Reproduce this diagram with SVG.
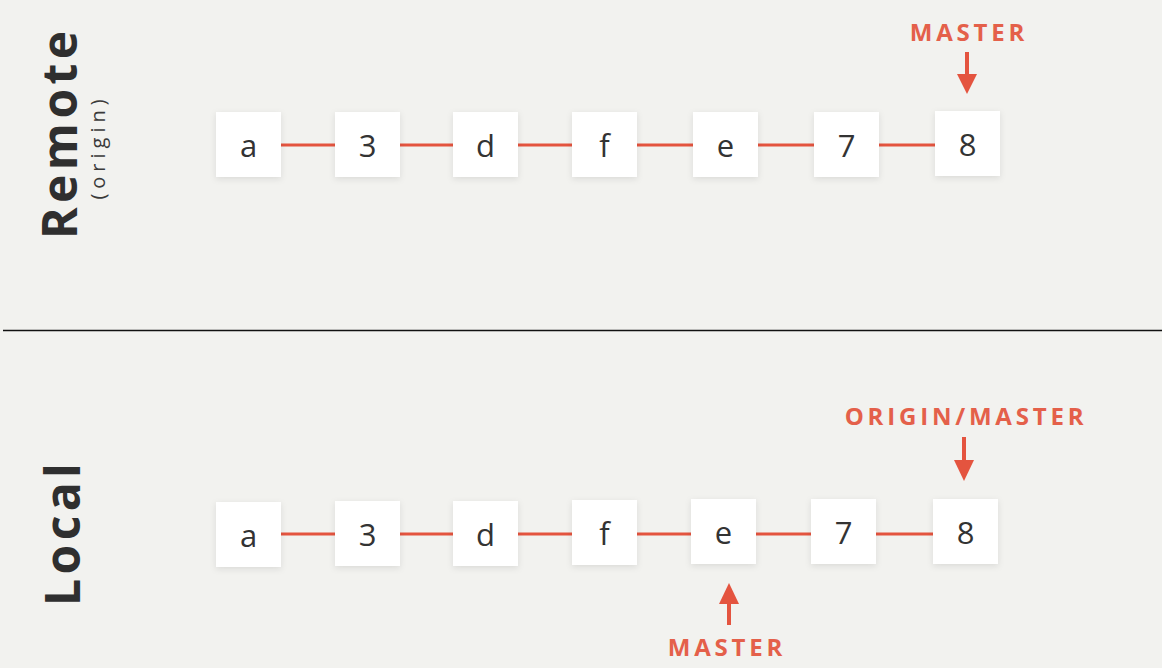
<svg xmlns="http://www.w3.org/2000/svg" width="1162" height="668" viewBox="0 0 1162 668">
<defs>
<style>
.bg{fill:#f2f2ef}
.box{fill:#ffffff;filter:url(#sh)}
.nt{font-family:"Open Sans","Liberation Sans",sans-serif;font-size:31px;fill:#333333;text-anchor:middle}
.ln{stroke:#e4543f;stroke-width:3;fill:none}
.ar{stroke:#e4543f;stroke-width:4;fill:none}
.ah{fill:#e4543f}
.lbl{font-family:"Open Sans","Liberation Sans",sans-serif;font-weight:700;font-size:24px;fill:#e4604a;text-anchor:middle;letter-spacing:3.8px}
.title{font-family:"Open Sans","Liberation Sans",sans-serif;font-weight:700;font-size:48px;fill:#2f2f2f;letter-spacing:4.4px}
.sub{font-family:"Open Sans","Liberation Sans",sans-serif;font-size:20px;fill:#3a3a3a;letter-spacing:5px;text-anchor:middle}
</style>
<filter id="sh" x="-30%" y="-30%" width="160%" height="160%">
<feDropShadow dx="0" dy="2" stdDeviation="3" flood-color="#000000" flood-opacity="0.10"/>
</filter>
</defs>
<rect class="bg" x="0" y="0" width="1162" height="668"/>
<line x1="3" y1="330.5" x2="1162" y2="330.5" stroke="#111111" stroke-width="1.5"/>

<g id="section-titles">
<text class="title" transform="translate(77,239) rotate(-90)">Remote</text>
<text class="sub" transform="translate(105,147) rotate(-90)">(origin)</text>
<text class="title" transform="translate(80,606) rotate(-90)">Local</text>
</g>

<g id="connectors">
<line class="ln" x1="281" y1="145" x2="335" y2="145"/>
<line class="ln" x1="400" y1="145" x2="453" y2="145"/>
<line class="ln" x1="518" y1="145" x2="572" y2="145"/>
<line class="ln" x1="637" y1="145" x2="693" y2="145"/>
<line class="ln" x1="758" y1="145" x2="814" y2="145"/>
<line class="ln" x1="879" y1="145" x2="935" y2="145"/>

<line class="ln" x1="281" y1="534" x2="335" y2="534"/>
<line class="ln" x1="400" y1="534" x2="453" y2="534"/>
<line class="ln" x1="518" y1="534" x2="572" y2="534"/>
<line class="ln" x1="637" y1="534" x2="691" y2="534"/>
<line class="ln" x1="756" y1="534" x2="811" y2="534"/>
<line class="ln" x1="876" y1="534" x2="933" y2="534"/>
</g>

<g id="remote-a"><rect class="box" x="216" y="112" width="65" height="65"/><text class="nt" x="248.5" y="157">a</text></g>
<g id="remote-3"><rect class="box" x="335" y="112" width="65" height="65"/><text class="nt" x="367.5" y="157">3</text></g>
<g id="remote-d"><rect class="box" x="453" y="112" width="65" height="65"/><text class="nt" x="485.5" y="157">d</text></g>
<g id="remote-f"><rect class="box" x="572" y="112" width="65" height="65"/><text class="nt" x="604.5" y="157">f</text></g>
<g id="remote-e"><rect class="box" x="693" y="112" width="65" height="65"/><text class="nt" x="725.5" y="157">e</text></g>
<g id="remote-7"><rect class="box" x="814" y="112" width="65" height="65"/><text class="nt" x="846.5" y="157">7</text></g>
<g id="remote-8"><rect class="box" x="935" y="111" width="65" height="65"/><text class="nt" x="967.5" y="156">8</text></g>

<g id="local-a"><rect class="box" x="216" y="502" width="65" height="65"/><text class="nt" x="248.5" y="547">a</text></g>
<g id="local-3"><rect class="box" x="335" y="501" width="65" height="65"/><text class="nt" x="367.5" y="546">3</text></g>
<g id="local-d"><rect class="box" x="453" y="501" width="65" height="65"/><text class="nt" x="485.5" y="546">d</text></g>
<g id="local-f"><rect class="box" x="572" y="500" width="65" height="65"/><text class="nt" x="604.5" y="545">f</text></g>
<g id="local-e"><rect class="box" x="691" y="499" width="65" height="65"/><text class="nt" x="723.5" y="544">e</text></g>
<g id="local-7"><rect class="box" x="811" y="499" width="65" height="65"/><text class="nt" x="843.5" y="544">7</text></g>
<g id="local-8"><rect class="box" x="933" y="499" width="65" height="65"/><text class="nt" x="965.5" y="544">8</text></g>

<g id="remote-master">
<text class="lbl" x="969" y="41">MASTER</text>
<line class="ar" x1="967" y1="52" x2="967" y2="76"/>
<polygon class="ah" points="957,74 977,74 967,94"/>
</g>

<g id="local-origin-master">
<text class="lbl" x="966" y="425">ORIGIN/MASTER</text>
<line class="ar" x1="964" y1="437" x2="964" y2="462"/>
<polygon class="ah" points="954,460 974,460 964,481"/>
</g>

<g id="local-master">
<line class="ar" x1="729" y1="602" x2="729" y2="625"/>
<polygon class="ah" points="719,604 739,604 729,583"/>
<text class="lbl" x="727" y="656">MASTER</text>
</g>
</svg>
